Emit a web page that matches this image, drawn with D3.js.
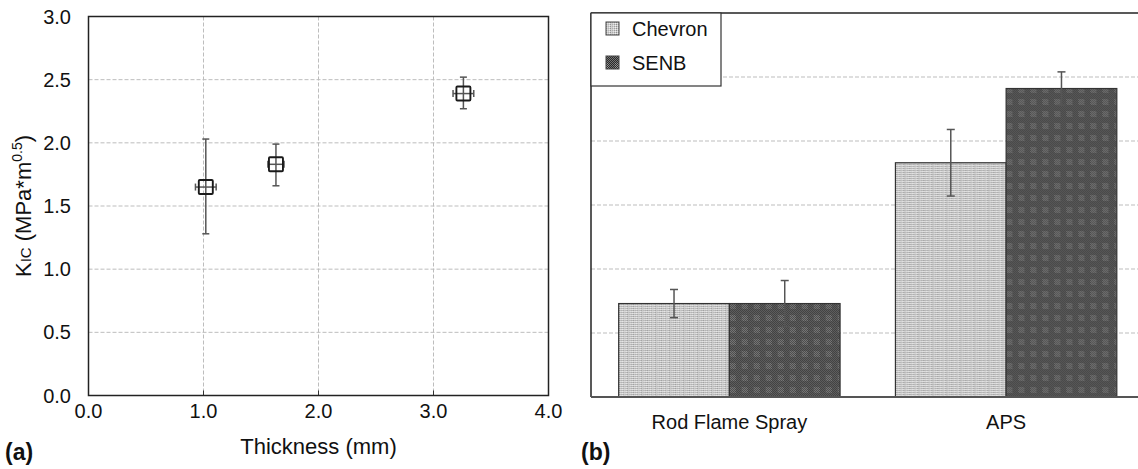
<!DOCTYPE html>
<html>
<head>
<meta charset="utf-8">
<script src="https://cdn.jsdelivr.net/npm/d3@7"></script>
<style>
  body { margin: 0; background: #fff; }
  svg { display: block; font-family: "Liberation Sans", Arial, sans-serif; }
  .grid line { stroke: #bdbdbd; stroke-dasharray: 4,2; stroke-width: 1; }
  .tick-label { font-size: 20px; fill: #111; }
</style>
</head>
<body>
<svg width="1138" height="469"></svg>
<script>
// (a) thickness data
const thickness = [1.02, 1.63, 3.26];
const thickErr = [0.09, 0.07, 0.09];
const kicA = [1.65, 1.83, 2.39];
const kicAUp = [0.38, 0.16, 0.13];
const kicALow = [0.37, 0.17, 0.12];
const xTicksA = [0, 1, 2, 3, 4];
const yTicks = [0, 0.5, 1, 1.5, 2, 2.5, 3];

// (b) bar data
const methods = ["Rod Flame Spray", "APS"];
const series = ["Chevron", "SENB"];
const chevron = [0.73, 1.83];
const chevronErr = [0.11, 0.26];
const senb = [0.73, 2.41];
const senbErr = [0.18, 0.13];

const svg = d3.select("svg");
const defs = svg.append("defs");

// Chevron: light stippled vertical stripes
const pc = defs.append("pattern").attr("id", "pChevron")
  .attr("patternUnits", "userSpaceOnUse").attr("width", 14).attr("height", 2);
pc.append("rect").attr("width", 14).attr("height", 2).attr("fill", "#cdcdcd");
const colShade = ["#8e8e8e", "#e8e8e8", "#a6a6a6", "#f2f2f2", "#9c9c9c", "#dedede", "#b4b4b4",
                  "#eeeeee", "#929292", "#d4d4d4", "#b0b0b0", "#e6e6e6", "#a0a0a0", "#f0f0f0"];
colShade.forEach((c, i) => {
  pc.append("rect").attr("x", i).attr("y", i % 2).attr("width", 1).attr("height", 1).attr("fill", c);
});

// SENB: dark checker
const ps = defs.append("pattern").attr("id", "pSenb")
  .attr("patternUnits", "userSpaceOnUse").attr("width", 12).attr("height", 12);
ps.append("rect").attr("width", 12).attr("height", 12).attr("fill", "#2a2a2a");
for (let i = 0; i < 12; i++) {
  for (let j = 0; j < 12; j++) {
    if ((i + j) % 2 === 0) {
      const light = (i > 2 && i < 9 && j > 2 && j < 9);
      ps.append("rect").attr("x", i).attr("y", j).attr("width", 1).attr("height", 1)
        .attr("fill", light ? "#999" : "#767676");
    }
  }
}

// ---------- panel (a) ----------
const xA = d3.scaleLinear().domain([0, 4]).range([88.5, 548.5]);
const yA = d3.scaleLinear().domain([0, 3]).range([395.5, 16.5]);

const gA = svg.append("g");
gA.append("g").attr("class", "grid").selectAll("line").data([1, 2, 3]).join("line")
  .attr("x1", d => xA(d)).attr("x2", d => xA(d)).attr("y1", yA(3)).attr("y2", yA(0));
gA.append("g").attr("class", "grid").selectAll("line").data([0.5, 1, 1.5, 2, 2.5]).join("line")
  .attr("x1", xA(0)).attr("x2", xA(4)).attr("y1", d => yA(d)).attr("y2", d => yA(d));

// inward ticks on bottom
gA.selectAll(".xt").data([1, 2, 3]).join("line")
  .attr("x1", d => xA(d)).attr("x2", d => xA(d)).attr("y1", yA(0)).attr("y2", yA(0) - 5)
  .attr("stroke", "#333");

gA.append("rect").attr("x", xA(0)).attr("y", yA(3))
  .attr("width", xA(4) - xA(0)).attr("height", yA(0) - yA(3))
  .attr("fill", "none").attr("stroke", "#222").attr("stroke-width", 1.5);

gA.selectAll(".xl").data(xTicksA).join("text").attr("class", "tick-label")
  .attr("x", d => xA(d)).attr("y", 418).attr("text-anchor", "middle")
  .text(d => d.toFixed(1));
gA.selectAll(".yl").data(yTicks).join("text").attr("class", "tick-label")
  .attr("x", 71).attr("y", d => yA(d)).attr("dy", "0.35em").attr("text-anchor", "end")
  .text(d => d.toFixed(1));

gA.append("text").attr("x", xA(2)).attr("y", 454).attr("text-anchor", "middle")
  .attr("font-size", 22).attr("fill", "#111").text("Thickness (mm)");
gA.append("text").attr("x", 5).attr("y", 460).attr("font-size", 23)
  .attr("font-weight", "bold").attr("fill", "#111").text("(a)");

const yLab = gA.append("text").attr("transform", `translate(31, ${yA(1.5)}) rotate(-90)`)
  .attr("text-anchor", "middle").attr("font-size", 22).attr("fill", "#111");
yLab.append("tspan").text("K");
yLab.append("tspan").attr("font-size", 15).text("IC");
yLab.append("tspan").text(" (MPa*m");
yLab.append("tspan").attr("font-size", 14).attr("dy", -9).text("0.5");
yLab.append("tspan").attr("dy", 9).text(")");

const pts = gA.selectAll(".pt").data(thickness).join("g");
const errColor = "#555";
pts.append("line")
  .attr("x1", (d) => xA(d)).attr("x2", d => xA(d))
  .attr("y1", (d, i) => yA(kicA[i] + kicAUp[i])).attr("y2", (d, i) => yA(kicA[i] - kicALow[i]))
  .attr("stroke", errColor).attr("stroke-width", 1.5);
[1, -1].forEach(s => {
  pts.append("line")
    .attr("x1", d => xA(d) - 3.5).attr("x2", d => xA(d) + 3.5)
    .attr("y1", (d, i) => yA(kicA[i] + (s > 0 ? kicAUp[i] : -kicALow[i])))
    .attr("y2", (d, i) => yA(kicA[i] + (s > 0 ? kicAUp[i] : -kicALow[i])))
    .attr("stroke", errColor).attr("stroke-width", 1.5);
  pts.append("line")
    .attr("x1", (d, i) => xA(d + s * thickErr[i])).attr("x2", (d, i) => xA(d + s * thickErr[i]))
    .attr("y1", (d, i) => yA(kicA[i]) - 3.5).attr("y2", (d, i) => yA(kicA[i]) + 3.5)
    .attr("stroke", errColor).attr("stroke-width", 1.5);
});
pts.append("line")
  .attr("x1", (d, i) => xA(d - thickErr[i])).attr("x2", (d, i) => xA(d + thickErr[i]))
  .attr("y1", (d, i) => yA(kicA[i])).attr("y2", (d, i) => yA(kicA[i]))
  .attr("stroke", errColor).attr("stroke-width", 1.5);
pts.append("rect")
  .attr("x", d => xA(d) - 7).attr("y", (d, i) => yA(kicA[i]) - 7)
  .attr("width", 14).attr("height", 14).attr("rx", 1)
  .attr("fill", "none").attr("stroke", "#1a1a1a").attr("stroke-width", 1.9);

// ---------- panel (b) ----------
const xB = d3.scaleBand().domain(methods).range([591, 1144.5]).paddingInner(0.2).paddingOuter(0.1);
const xS = d3.scaleBand().domain(series).range([0, xB.bandwidth()]);
const yB = d3.scaleLinear().domain([0, 3]).range([397, 13]);
const vals = { Chevron: chevron, SENB: senb };
const errs = { Chevron: chevronErr, SENB: senbErr };
const fills = { Chevron: "url(#pChevron)", SENB: "url(#pSenb)" };

const gB = svg.append("g");
gB.append("g").attr("class", "grid").selectAll("line").data([0.5, 1, 1.5, 2, 2.5]).join("line")
  .attr("x1", 591).attr("x2", 1138).attr("y1", d => yB(d)).attr("y2", d => yB(d));

const groups = gB.selectAll(".grp").data(methods).join("g")
  .attr("transform", d => `translate(${xB(d)},0)`);
series.forEach(s => {
  groups.append("rect")
    .attr("x", xS(s)).attr("width", xS.bandwidth())
    .attr("y", (d, i) => yB(vals[s][i])).attr("height", (d, i) => yB(0) - yB(vals[s][i]))
    .attr("fill", fills[s]).attr("stroke", "#333").attr("stroke-width", 1.2);
});
series.forEach(s => {
  const cx = xS(s) + xS.bandwidth() / 2;
  groups.append("line").attr("x1", cx).attr("x2", cx)
    .attr("y1", (d, i) => yB(vals[s][i] + errs[s][i])).attr("y2", (d, i) => yB(vals[s][i] - errs[s][i]))
    .attr("stroke", errColor).attr("stroke-width", 1.5);
  [1, -1].forEach(k => {
    groups.append("line").attr("x1", cx - 4).attr("x2", cx + 4)
      .attr("y1", (d, i) => yB(vals[s][i] + k * errs[s][i])).attr("y2", (d, i) => yB(vals[s][i] + k * errs[s][i]))
      .attr("stroke", errColor).attr("stroke-width", 1.5);
  });
});

// frame
gB.append("line").attr("x1", 591).attr("x2", 1145).attr("y1", yB(3)).attr("y2", yB(3))
  .attr("stroke", "#222").attr("stroke-width", 1.5);
gB.append("line").attr("x1", 591).attr("x2", 591).attr("y1", yB(3)).attr("y2", yB(0))
  .attr("stroke", "#222").attr("stroke-width", 1.5);
gB.append("line").attr("x1", 591).attr("x2", 1145).attr("y1", yB(0)).attr("y2", yB(0))
  .attr("stroke", "#555").attr("stroke-width", 2);

gB.selectAll(".cl").data(methods).join("text").attr("class", "tick-label")
  .attr("x", d => xB(d) + xB.bandwidth() / 2).attr("y", 429).attr("text-anchor", "middle")
  .text(d => d);
gB.append("text").attr("x", 581).attr("y", 460).attr("font-size", 23)
  .attr("font-weight", "bold").attr("fill", "#111").text("(b)");

// legend
const lg = gB.append("g");
lg.append("rect").attr("x", 591).attr("y", 13).attr("width", 130).attr("height", 73)
  .attr("fill", "#fff").attr("stroke", "#333").attr("stroke-width", 1.2);
series.forEach((s, i) => {
  lg.append("rect").attr("x", 606).attr("y", 22 + i * 34).attr("width", 13).attr("height", 13)
    .attr("fill", fills[s]).attr("stroke", "#444").attr("stroke-width", 1);
  lg.append("text").attr("class", "tick-label").attr("x", 632).attr("y", 29 + i * 34)
    .attr("dy", "0.35em").text(s);
});
</script>
</body>
</html>
